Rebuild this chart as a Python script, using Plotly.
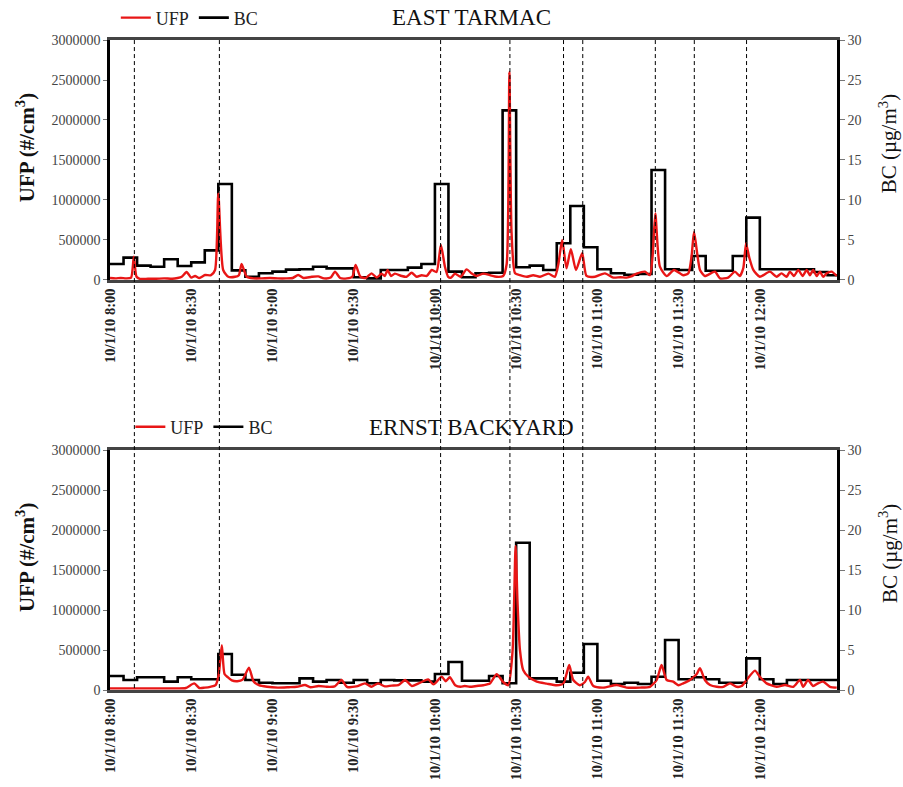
import plotly.graph_objects as go

# ---- time axis (minutes after 8:00 on 10/1/10) ----
TIME_END = 268.5
tick_minutes = [0, 30, 60, 90, 120, 150, 180, 210, 240]
tick_labels = ["10/1/10 8:00", "10/1/10 8:30", "10/1/10 9:00", "10/1/10 9:30",
               "10/1/10 10:00", "10/1/10 10:30", "10/1/10 11:00", "10/1/10 11:30",
               "10/1/10 12:00"]

# aircraft events (dashed markers), minutes after 8:00
event_minutes = [9.0, 40.4, 122.1, 147.7, 167.5, 174.6, 201.4, 215.8, 235.1]

# ---- EAST TARMAC ----
east_ufp_t = [0, 2, 4, 6, 7.8, 8.8, 9.8, 11, 14, 17, 20, 23, 25, 26.5, 28.3, 30, 31.4, 33,
              35.1, 37.3, 38.8, 40.0, 41.8, 43.7, 46.2, 47.6, 48.6, 50.5, 53, 56, 59, 62,
              65, 67.5, 69.5, 71.5, 74.5, 76.9, 79, 81.5, 83.1, 85, 87.5, 89.5, 90.7, 92.5,
              94.5, 96.6, 98.5, 100.3, 101.5, 102.5, 103.8, 105.2, 107.7, 109.5, 111.4,
              113.3, 115.1, 117, 118.8, 120.6, 122.2, 123.7, 124.9, 126, 127.4, 129.5,
              131.7, 133.6, 135.4, 137.9, 140.3, 142.8, 145.2, 146.5, 147.5, 148.3, 149.6,
              151.4, 153.9, 156.3, 158.8, 161.9, 164.3, 165.6, 167.0, 168.6, 170.2, 172.1,
              174.4, 176.0, 179.1, 182.8, 185.9, 188.5, 190.8, 192.5, 194.5, 197.6, 199.4,
              200.4, 201.4, 203.1, 205.6, 208.3, 211.7, 213.6, 214.8, 215.7, 217.9, 219.7,
              223.4, 225.3, 228.3, 230.8, 232.6, 233.9, 234.9, 236.1, 237.6, 240.0, 243.7,
              246.2, 248.0, 249.9, 251.1, 252.6, 254.2, 255.8, 257.3, 258.5, 259.7, 261.0,
              262.2, 263.4, 264.7, 266.5, 268.4]
east_ufp = [25000, 20000, 25000, 20000, 30000, 290000, 40000, 15000, 15000, 15000, 20000,
            15000, 25000, 40000, 100000, 30000, 50000, 25000,
            62000, 60000, 125000, 1080000, 125000, 40000, 40000, 60000, 200000, 40000,
            20000, 20000, 25000, 20000,
            20000, 25000, 62000, 25000, 40000, 45000, 20000, 30000, 104000, 25000, 20000,
            40000, 187000, 40000,
            25000, 83000, 30000, 80000, 50000, 125000, 50000, 80000, 50000, 40000, 90000,
            40000, 60000, 50000, 125000, 100000, 437000, 166000, 40000, 30000, 80000, 40000,
            133000, 80000, 50000, 80000, 60000, 40000, 50000, 200000, 2600000, 600000, 83000,
            60000, 40000, 60000, 40000, 80000, 40000, 200000, 500000, 146000, 385000, 125000,
            335000, 50000, 40000, 83000, 30000, 35000, 30000, 45000, 80000, 104000, 60000,
            300000, 833000, 166000, 50000, 125000, 60000, 83000, 300000, 600000, 125000, 50000,
            104000, 20000, 30000, 104000, 50000, 150000, 458000, 280000, 125000, 40000, 104000,
            40000, 83000, 40000, 104000, 50000, 125000, 50000, 125000, 60000, 125000, 50000,
            104000, 40000, 83000, 104000, 50000]

# black carbon, 5-minute averages (bin start, minutes)
east_bc_t = [0, 5, 10, 15, 20, 25, 30, 35, 40, 45, 50, 55, 60, 65, 70, 75, 80, 85, 90, 95,
             100, 105, 110, 115, 120, 125, 130, 135, 140, 145, 150, 155, 160, 165, 170, 175,
             180, 185, 190, 195, 200, 205, 210, 215, 220, 225, 230, 235, 240, 245, 250, 255,
             260, 265]
east_bc = [2.0, 2.8, 1.8, 1.65, 2.6, 1.75, 2.2, 3.7, 12.0, 1.2, 0.4, 0.85, 1.05, 1.3, 1.35,
           1.65, 1.45, 1.45, 0.35, 0.2, 1.25, 1.25, 1.55, 2.0, 12.0, 1.05, 0.35, 0.85, 0.9,
           21.2, 1.6, 1.8, 1.25, 4.6, 9.25, 4.1, 1.35, 0.85, 0.65, 0.75, 13.75, 1.35, 1.25,
           3.0, 1.15, 1.15, 3.0, 7.8, 1.35, 1.35, 1.35, 1.35, 1.0, 0.6]

# ---- ERNST BACKYARD ----
ernst_ufp_t = [0, 5, 10, 15, 20, 25, 28, 31.1, 33, 35, 37, 39, 40.2, 41.3, 42.3, 43.5, 45,
               47, 49, 51.3, 53, 55, 58, 62, 66, 69, 72, 74, 77, 80, 83, 85.5, 87.5, 91,
               94.2, 96.5, 99, 101.5, 104, 106.5, 109, 111.5, 114, 117.5, 119.5, 122.5,
               124, 125.5, 127.5, 129.5, 131, 132.9, 135.4, 137.9, 140.3, 142.8, 145.2,
               147.1, 148.7, 149.8, 150.5, 151.4, 152.6, 154.5, 157.6, 161.3, 165.0, 167.4,
               168.6, 169.6, 171.1, 173.5, 175.4, 176.6, 178.5, 182.2, 187.1, 190.8, 195.7,
               199.4, 201.9, 203.7, 205.6, 208.0, 209.9, 211.7, 214.2, 216.7, 217.9, 219.7,
               221.6, 224.1, 226.5, 229.0, 231.4, 233.3, 235.1, 238.2, 240.0, 242.5, 246.2,
               249.3, 252.3, 254.8, 256.0, 257.8, 259.7, 261.5, 263.4, 265.9, 268.4]
ernst_ufp = [20000, 20000, 20000, 20000, 20000, 20000, 25000, 83000, 25000, 30000, 40000,
             60000, 200000, 560000, 200000, 160000, 120000, 110000, 130000, 280000, 110000,
             60000, 40000, 30000, 35000, 40000, 62000, 35000, 50000, 40000, 45000, 125000,
             40000, 45000, 83000, 40000, 83000, 45000, 55000, 60000, 125000, 50000, 83000,
             133000, 70000, 166000, 110000, 160000, 60000, 40000, 50000, 40000, 50000, 60000,
             80000, 196000, 100000, 60000, 500000, 1800000, 1100000, 500000, 250000, 166000,
             104000, 80000, 60000, 80000, 200000, 312000, 125000, 60000, 100000, 166000, 50000,
             30000, 62000, 30000, 30000, 40000, 125000, 312000, 125000, 104000, 60000, 83000,
             125000, 200000, 271000, 125000, 62000, 40000, 40000, 83000, 40000, 50000, 125000,
             242000, 166000, 83000, 40000, 62000, 40000, 125000, 40000, 125000, 50000, 83000,
             104000, 40000, 30000]

ernst_bc_t = east_bc_t
ernst_bc = [1.75, 1.25, 1.6, 1.6, 1.05, 1.6, 1.35, 1.35, 4.5, 1.9, 1.25, 0.9, 0.85, 0.85,
            1.45, 1.05, 1.25, 0.9, 1.25, 0.85, 1.25, 1.2, 1.2, 1.05, 2.0, 3.5, 1.15, 1.15,
            1.75, 0.85, 18.4, 1.45, 1.45, 1.05, 2.15, 5.75, 1.15, 0.75, 0.9, 0.75, 1.65, 6.25,
            1.35, 1.6, 1.35, 0.9, 0.9, 3.95, 1.35, 0.75, 1.25, 1.25, 1.25, 1.25]

RED = "rgb(232,22,22)"
SERIF = "Liberation Serif, Times New Roman, serif"


def step_series(t, v):
    # close the last 5-minute bin at the end of the time axis
    return list(t) + [TIME_END], list(v) + [v[-1]]


fig = go.Figure()

panels = [
    # (x axis, BC y axis, UFP y axis, legend, ufp t, ufp, bc t, bc)
    ("x", "y", "y2", "legend", east_ufp_t, east_ufp, east_bc_t, east_bc),
    ("x2", "y3", "y4", "legend2", ernst_ufp_t, ernst_ufp, ernst_bc_t, ernst_bc),
]
for xa, ybc, yufp, leg, ut, uv, bt, bv in panels:
    fig.add_trace(go.Scatter(x=ut, y=uv, mode="lines", name="UFP", xaxis=xa, yaxis=yufp,
                             line=dict(color=RED, width=2.4, shape="spline", smoothing=0.6),
                             legend=leg))
    sx, sy = step_series(bt, bv)
    fig.add_trace(go.Scatter(x=sx, y=sy, mode="lines", name="BC", xaxis=xa, yaxis=ybc,
                             line=dict(color="black", width=2.6, shape="hv"),
                             legend=leg))

tick_font = dict(family=SERIF, size=14, color="#444")
xtick_font = dict(family=SERIF, size=14.5, color="#222")

xaxis_common = dict(range=[0, TIME_END], tickmode="array", tickvals=tick_minutes,
                    ticktext=["<b>%s</b>" % s for s in tick_labels], tickangle=-90,
                    showgrid=False, zeroline=False,
                    showline=True, linecolor="#444", linewidth=2.5, mirror=True,
                    ticks="", tickfont=xtick_font, automargin=False)
ufp_common = dict(range=[0, 3000000], dtick=500000, tickformat="d", side="left",
                  showgrid=False, zeroline=False, showline=True, linecolor="black",
                  linewidth=2.5, ticks="outside", ticklen=4, tickcolor="#777",
                  tickfont=tick_font, automargin=False)
bc_common = dict(range=[0, 30], dtick=5, side="right", showgrid=False, zeroline=False,
                 showline=True, linecolor="black", linewidth=2.5, ticks="outside",
                 ticklen=5, tickcolor="#777", tickfont=tick_font, automargin=False)

TOP = [0.6308, 1.0]
BOT = [0.0, 0.3692]

fig.update_layout(
    width=903, height=787,
    margin=dict(l=110, r=66, t=40, b=97, autoexpand=False),
    paper_bgcolor="white", plot_bgcolor="white",
    xaxis=dict(domain=[0, 1], anchor="y", **xaxis_common),
    xaxis2=dict(domain=[0, 1], anchor="y3", matches="x", **xaxis_common),
    yaxis=dict(domain=TOP, anchor="x", **bc_common),
    yaxis2=dict(domain=TOP, anchor="x", overlaying="y", **ufp_common),
    yaxis3=dict(domain=BOT, anchor="x2", **bc_common),
    yaxis4=dict(domain=BOT, anchor="x2", overlaying="y3", **ufp_common),
    legend=dict(orientation="h", x=0.008, y=1.034, xanchor="left", yanchor="middle",
                font=dict(family=SERIF, size=18, color="#222"), itemwidth=30,
                bgcolor="rgba(0,0,0,0)", tracegroupgap=0),
    legend2=dict(orientation="h", x=0.028, y=0.4046, xanchor="left", yanchor="middle",
                 font=dict(family=SERIF, size=18, color="#222"), itemwidth=30,
                 bgcolor="rgba(0,0,0,0)", tracegroupgap=0),
    showlegend=True,
)

# event markers spanning both panels
for t in event_minutes:
    fig.add_shape(type="line", xref="x", yref="paper", x0=t, x1=t, y0=0.003, y1=1.0,
                  line=dict(color="black", width=1, dash="4px,3px"), layer="above")

# panel titles and axis titles
for title, ymid, ytitle in [("EAST TARMAC", 1.034, 0.835), ("ERNST BACKYARD", 0.4046, 0.2046)]:
    fig.add_annotation(text=title, xref="paper", yref="paper", x=0.4966, y=ymid,
                       xanchor="center", yanchor="middle", showarrow=False,
                       font=dict(family=SERIF, size=23, color="#111"))
    fig.add_annotation(text="<b>UFP (#/cm<sup>3</sup>)</b>", xref="paper", yref="paper",
                       x=-0.117, y=ytitle, xanchor="center", yanchor="middle",
                       textangle=-90, showarrow=False,
                       font=dict(family=SERIF, size=21, color="#111"))
    fig.add_annotation(text="BC (µg/m<sup>3</sup>)", xref="paper", yref="paper",
                       x=1.070, y=ytitle + 0.006, xanchor="center", yanchor="middle",
                       textangle=-90, showarrow=False,
                       font=dict(family=SERIF, size=21, color="#111"))

fig.write_html("out.html")
